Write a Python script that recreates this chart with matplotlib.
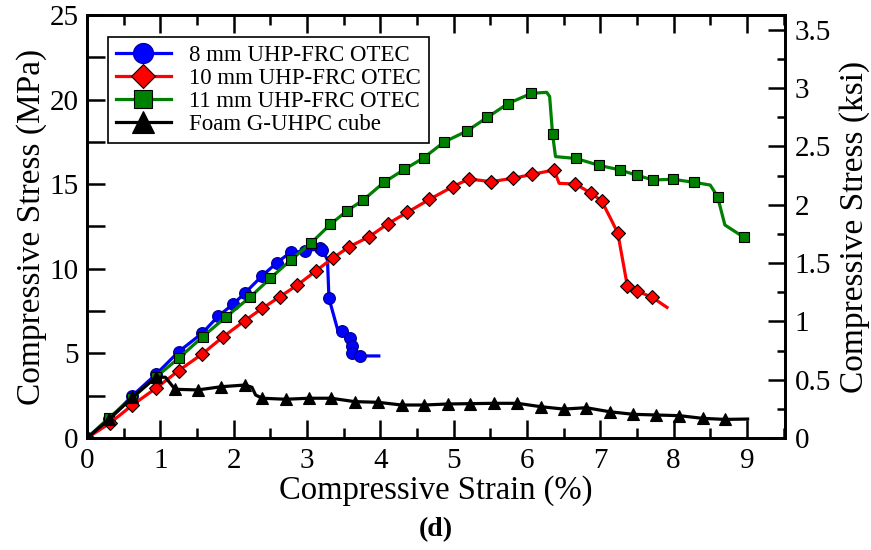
import matplotlib
matplotlib.use("Agg")
import matplotlib.pyplot as plt
from matplotlib.ticker import MultipleLocator, FormatStrFormatter

plt.rcParams['font.family'] = ['Liberation Serif', 'DejaVu Serif']

MPA_PER_KSI = 6.895

# 8 mm UHP-FRC OTEC
blue_x = [0, 0.30, 0.62, 0.94, 1.25, 1.57, 1.79, 1.99, 2.15, 2.39, 2.59, 2.78,
          2.97, 3.18, 3.21, 3.28, 3.30, 3.42, 3.48, 3.59, 3.61, 3.61, 3.73, 3.98]
blue_y = [0, 1.1, 2.5, 3.76, 5.1, 6.19, 7.2, 7.9, 8.55, 9.59, 10.36, 10.99,
          11.03, 11.21, 11.13, 10.52, 8.26, 6.38, 6.32, 5.91, 5.44, 5.04, 4.85, 4.85]
blue_marks = [0, 1, 2, 3, 4, 5, 6, 7, 8, 9, 10, 11, 12, 13, 14, 16, 18, 19, 20, 21, 22]

# 10 mm UHP-FRC OTEC
red_x = [0, 0.31, 0.62, 0.94, 1.25, 1.57, 1.86, 2.15, 2.39, 2.63, 2.87, 3.12,
         3.36, 3.58, 3.85, 4.10, 4.37, 4.67, 4.99, 5.21, 5.51, 5.81, 6.07, 6.37,
         6.44, 6.66, 6.88, 7.02, 7.15, 7.24, 7.37, 7.50, 7.71, 7.91]
red_y = [0, 0.87, 1.95, 2.94, 3.98, 4.96, 5.99, 6.93, 7.66, 8.35, 9.04, 9.87,
         10.66, 11.31, 11.9, 12.65, 13.34, 14.1, 14.86, 15.31, 15.15, 15.35, 15.58, 15.84,
         15.05, 15.01, 14.46, 14.0, 12.9, 12.1, 8.98, 8.69, 8.31, 7.72]
red_marks = [i for i in range(len(red_x)) if i not in (24, 28, 33)]

# 11 mm UHP-FRC OTEC
green_x = [0, 0.30, 0.62, 0.94, 1.26, 1.58, 1.90, 2.22, 2.50, 2.78, 3.06, 3.32,
           3.55, 3.77, 4.05, 4.33, 4.59, 4.87, 5.18, 5.46, 5.74, 6.06, 6.27, 6.31,
           6.35, 6.39, 6.67, 6.98, 7.27, 7.50, 7.72, 7.99, 8.28, 8.50, 8.60, 8.70, 8.96]
green_y = [0, 1.2, 2.38, 3.6, 4.75, 5.99, 7.17, 8.31, 9.44, 10.52, 11.54, 12.63,
           13.44, 14.07, 15.11, 15.88, 16.55, 17.49, 18.14, 18.95, 19.76, 20.37, 20.43, 20.18,
           17.95, 16.63, 16.52, 16.12, 15.84, 15.53, 15.25, 15.29, 15.11, 14.95, 14.27, 12.59, 11.86]
green_marks = [i for i in range(len(green_x)) if i not in (22, 23, 25, 33, 35)]

# Foam G-UHPC cube
black_x = [0, 0.30, 0.62, 0.94, 1.07, 1.20, 1.51, 1.83, 2.15, 2.25, 2.30, 2.39,
           2.71, 3.03, 3.33, 3.65, 3.97, 4.29, 4.60, 4.92, 5.23, 5.55, 5.87, 6.19,
           6.50, 6.81, 7.13, 7.45, 7.76, 8.08, 8.40, 8.70, 9.01]
black_y = [0, 1.1, 2.4, 3.6, 3.59, 2.88, 2.84, 3.03, 3.13, 3.0, 2.54, 2.35,
           2.29, 2.35, 2.35, 2.15, 2.11, 1.95, 1.95, 2.01, 2.03, 2.05, 2.05, 1.85,
           1.71, 1.79, 1.55, 1.40, 1.36, 1.32, 1.16, 1.10, 1.12]
black_marks = [i for i in range(len(black_x)) if i not in (4, 9, 10, 32)]

fig = plt.figure(figsize=(8.71, 5.5), dpi=100)
ax = fig.add_axes([87 / 871, 1 - 438 / 550, 698 / 871, 423 / 550])

series = [
    (blue_x, blue_y, blue_marks, 'blue', 'o', 8.5, '8 mm UHP-FRC OTEC', 1),
    (green_x, green_y, green_marks, '#008000', 's', 7.8, '11 mm UHP-FRC OTEC', 3),
    (red_x, red_y, red_marks, 'red', 'D', 7.2, '10 mm UHP-FRC OTEC', 2),
    (black_x, black_y, black_marks, 'black', '^', 9, 'Foam G-UHPC cube', 4),
]
handles = {}
for x, y, marks, color, mk, ms, label, order in series:
    edge = '#00008b' if color == 'blue' else 'black'
    line, = ax.plot(x, y, color=color, lw=2.3, marker=mk, ms=ms, markevery=marks,
                    mfc=color, mec=edge, mew=0.8, label=label)
    handles[order] = line

ax.set_xlim(0, 9.52)
ax.set_ylim(0, 25)
ax.xaxis.set_major_locator(MultipleLocator(1))
ax.xaxis.set_minor_locator(MultipleLocator(0.5))
ax.yaxis.set_major_locator(MultipleLocator(5))
ax.yaxis.set_minor_locator(MultipleLocator(2.5))

ax.tick_params(which='both', direction='in', top=True, right=False, width=1.8,
               labelsize=21)
ax.tick_params(axis='x', which='major', length=13, pad=7)
ax.tick_params(axis='x', which='minor', length=7.5)
ax.tick_params(axis='y', which='both', length=13, pad=6)
for s in ax.spines.values():
    s.set_linewidth(2)

ax.set_xlabel('Compressive Strain (%)', fontsize=23.5, labelpad=1)
ax.set_ylabel('Compressive Stress (MPa)', fontsize=24, labelpad=2)

ax2 = ax.twinx()
ax2.set_ylim(0, 25 / MPA_PER_KSI)
ax2.yaxis.set_major_locator(MultipleLocator(0.5))
ax2.yaxis.set_minor_locator(MultipleLocator(0.25))
ax2.yaxis.set_major_formatter(FormatStrFormatter('%g'))
ax2.tick_params(which='both', direction='in', width=1.8, labelsize=21)
ax2.tick_params(which='major', length=12.5, pad=7)
ax2.tick_params(which='minor', length=6)
ax2.set_ylabel('Compressive Stress (ksi)', fontsize=24, labelpad=6)
for s in ax2.spines.values():
    s.set_linewidth(2)

leg = ax.legend([handles[k] for k in sorted(handles)],
                [handles[k].get_label() for k in sorted(handles)],
                loc='upper left', bbox_to_anchor=(0.03, 0.948), borderaxespad=0,
                fontsize=16.5, markerscale=1.7, handlelength=2.4, labelspacing=0.08,
                borderpad=0.35, handletextpad=0.8, fancybox=False, framealpha=1)
leg.get_frame().set_edgecolor('black')
leg.get_frame().set_linewidth(1.2)

fig.text(436 / 871, 1 - 530 / 550, '(d)', ha='center', va='center',
         fontsize=20, fontweight='bold')

fig.savefig('out.png', dpi=100)
